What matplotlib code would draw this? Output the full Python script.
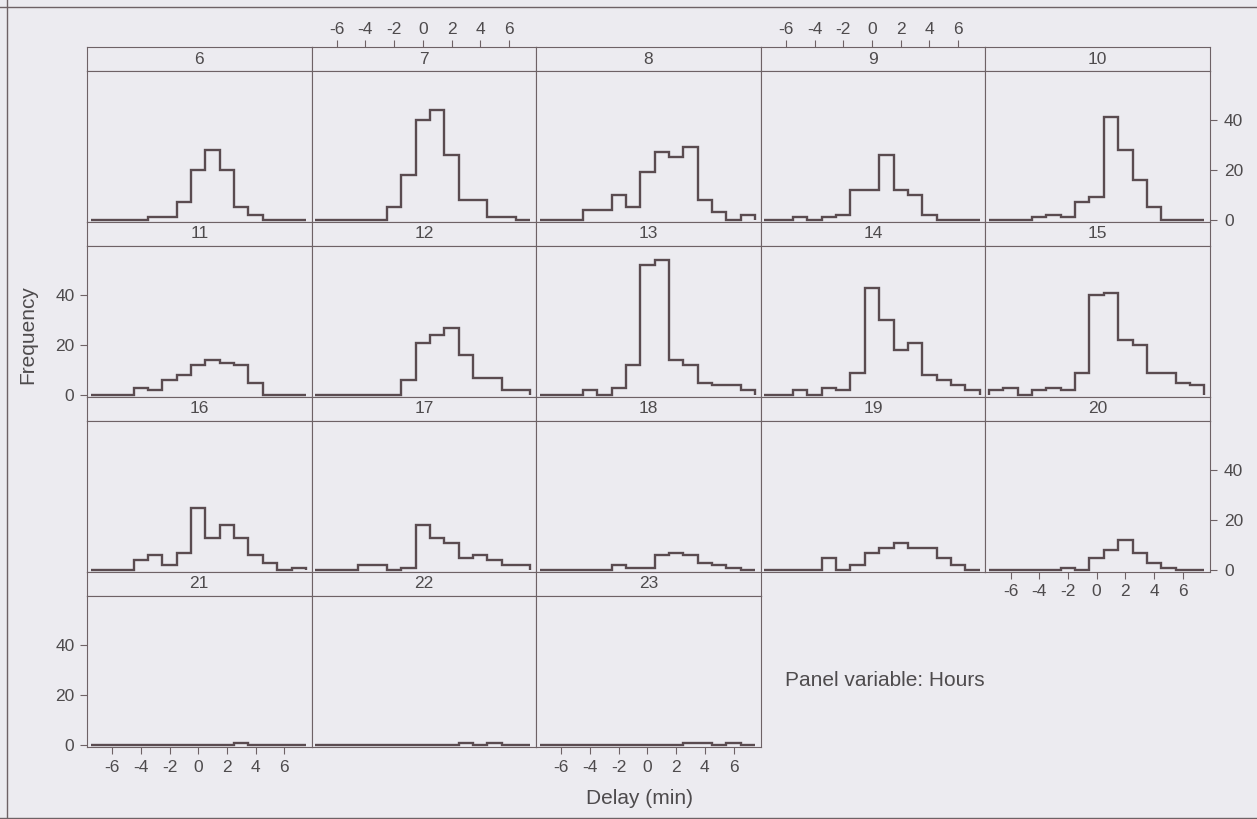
import numpy as np
import matplotlib.pyplot as plt
from matplotlib.lines import Line2D

plt.rcParams['font.family'] = ['Liberation Sans', 'DejaVu Sans']
plt.rcParams['axes.unicode_minus'] = False

# delay histogram per hour of day, bins of 1 min centred on -7 ... 7
hours = list(range(6, 24))
bin_edges = np.arange(-7.5, 8.0, 1.0)
x_ticks = [-6, -4, -2, 0, 2, 4, 6]
y_ticks = [0, 20, 40]

h06 = [0, 0, 0, 0, 1, 1, 7, 20, 28, 20, 5, 2, 0, 0, 0]
h07 = [0, 0, 0, 0, 0, 5, 18, 40, 44, 26, 8, 8, 1, 1, 0]
h08 = [0, 0, 0, 4, 4, 10, 5, 19, 27, 25, 29, 8, 3, 0, 2]
h09 = [0, 0, 1, 0, 1, 2, 12, 12, 26, 12, 10, 2, 0, 0, 0]
h10 = [0, 0, 0, 1, 2, 1, 7, 9, 41, 28, 16, 5, 0, 0, 0]
h11 = [0, 0, 0, 3, 2, 6, 8, 12, 14, 13, 12, 5, 0, 0, 0]
h12 = [0, 0, 0, 0, 0, 0, 6, 21, 24, 27, 16, 7, 7, 2, 2]
h13 = [0, 0, 0, 2, 0, 3, 12, 52, 54, 14, 12, 5, 4, 4, 2]
h14 = [0, 0, 2, 0, 3, 2, 9, 43, 30, 18, 21, 8, 6, 4, 2]
h15 = [2, 3, 0, 2, 3, 2, 9, 40, 41, 22, 20, 9, 9, 5, 4]
h16 = [0, 0, 0, 4, 6, 2, 7, 25, 13, 18, 13, 6, 3, 0, 1]
h17 = [0, 0, 0, 2, 2, 0, 1, 18, 13, 11, 5, 6, 4, 2, 2]
h18 = [0, 0, 0, 0, 0, 2, 1, 1, 6, 7, 6, 3, 2, 1, 0]
h19 = [0, 0, 0, 0, 5, 0, 2, 7, 9, 11, 9, 9, 5, 2, 0]
h20 = [0, 0, 0, 0, 0, 1, 0, 5, 8, 12, 7, 3, 1, 0, 0]
h21 = [0, 0, 0, 0, 0, 0, 0, 0, 0, 0, 1, 0, 0, 0, 0]
h22 = [0, 0, 0, 0, 0, 0, 0, 0, 0, 0, 1, 0, 1, 0, 0]
h23 = [0, 0, 0, 0, 0, 0, 0, 0, 0, 0, 1, 1, 0, 1, 0]
counts = [h06, h07, h08, h09, h10, h11, h12, h13, h14, h15,
          h16, h17, h18, h19, h20, h21, h22, h23]

bg = '#ecebf0'
line_col = '#5a4b50'
frame_col = '#6e6266'
text_col = '#4e4b4d'

W, H = 1257, 819
fig = plt.figure(figsize=(W / 100, H / 100), dpi=100)
fig.patch.set_facecolor(bg)

left0, top0 = 87, 47
pw, ph, sh = 224.6, 151, 24
ncol = 5


def box(x, y, w, h):
    return [x / W, 1 - (y + h) / H, w / W, h / H]


def tidy(a):
    a.set_facecolor(bg)
    for s in a.spines.values():
        s.set_color(frame_col)
        s.set_linewidth(0.8)
    a.tick_params(colors=frame_col, labelcolor=text_col, labelsize=12.5,
                  direction='out', length=5, width=0.8)


for i, hr in enumerate(hours):
    r, c = divmod(i, ncol)
    x0 = left0 + c * pw
    y0 = top0 + r * (sh + ph)
    sax = fig.add_axes(box(x0, y0, pw, sh))
    ax = fig.add_axes(box(x0, y0 + sh, pw, ph))
    for a in (sax, ax):
        tidy(a)
        a.set_xlim(-7.75, 7.9)
        a.set_xticks([])
        a.set_yticks([])
    ax.set_ylim(-0.8, 59.6)
    sax.set_ylim(0, 1)
    sax.text(0.5, 0.5, str(hr), transform=sax.transAxes, ha='center',
             va='center', fontsize=12.5, color=text_col)

    ax.stairs(counts[i], bin_edges, baseline=0, fill=False,
              color=line_col, lw=1.7, joinstyle='miter')

    # lattice style alternating axes
    last_in_col = (i + ncol >= len(hours))
    if r == 0 and c % 2 == 1:
        sax.set_xticks(x_ticks)
        sax.xaxis.set_ticks_position('top')
        sax.tick_params(axis='x', pad=2)
    if last_in_col and c % 2 == 0:
        ax.set_xticks(x_ticks)
        ax.tick_params(axis='x', pad=4)
    if c == 0 and r % 2 == 1:
        ax.set_yticks(y_ticks)
        ax.tick_params(axis='y', pad=4)
    if c == ncol - 1 and r % 2 == 0:
        ax.set_yticks(y_ticks)
        ax.yaxis.set_ticks_position('right')
        ax.tick_params(axis='y', pad=5)

fig.text(28 / W, 1 - 335 / H, 'Frequency', rotation=90, ha='center',
         va='center', fontsize=15, color=text_col)
fig.text(639 / W, 1 - 799 / H, 'Delay (min)', ha='center', va='center',
         fontsize=15, color=text_col)
fig.text(785 / W, 1 - 681 / H, 'Panel variable: Hours', ha='left',
         va='center', fontsize=15, color=text_col)

# page frame
for xs, ys in [((0, 1), (1 - 7 / H, 1 - 7 / H)),
               ((7 / W, 7 / W), (0, 1)),
               ((0, 1), (1.5 / H, 1.5 / H))]:
    fig.add_artist(Line2D(xs, ys, color=frame_col, lw=1.0))

fig.savefig('out.png', dpi=100, facecolor=bg)
